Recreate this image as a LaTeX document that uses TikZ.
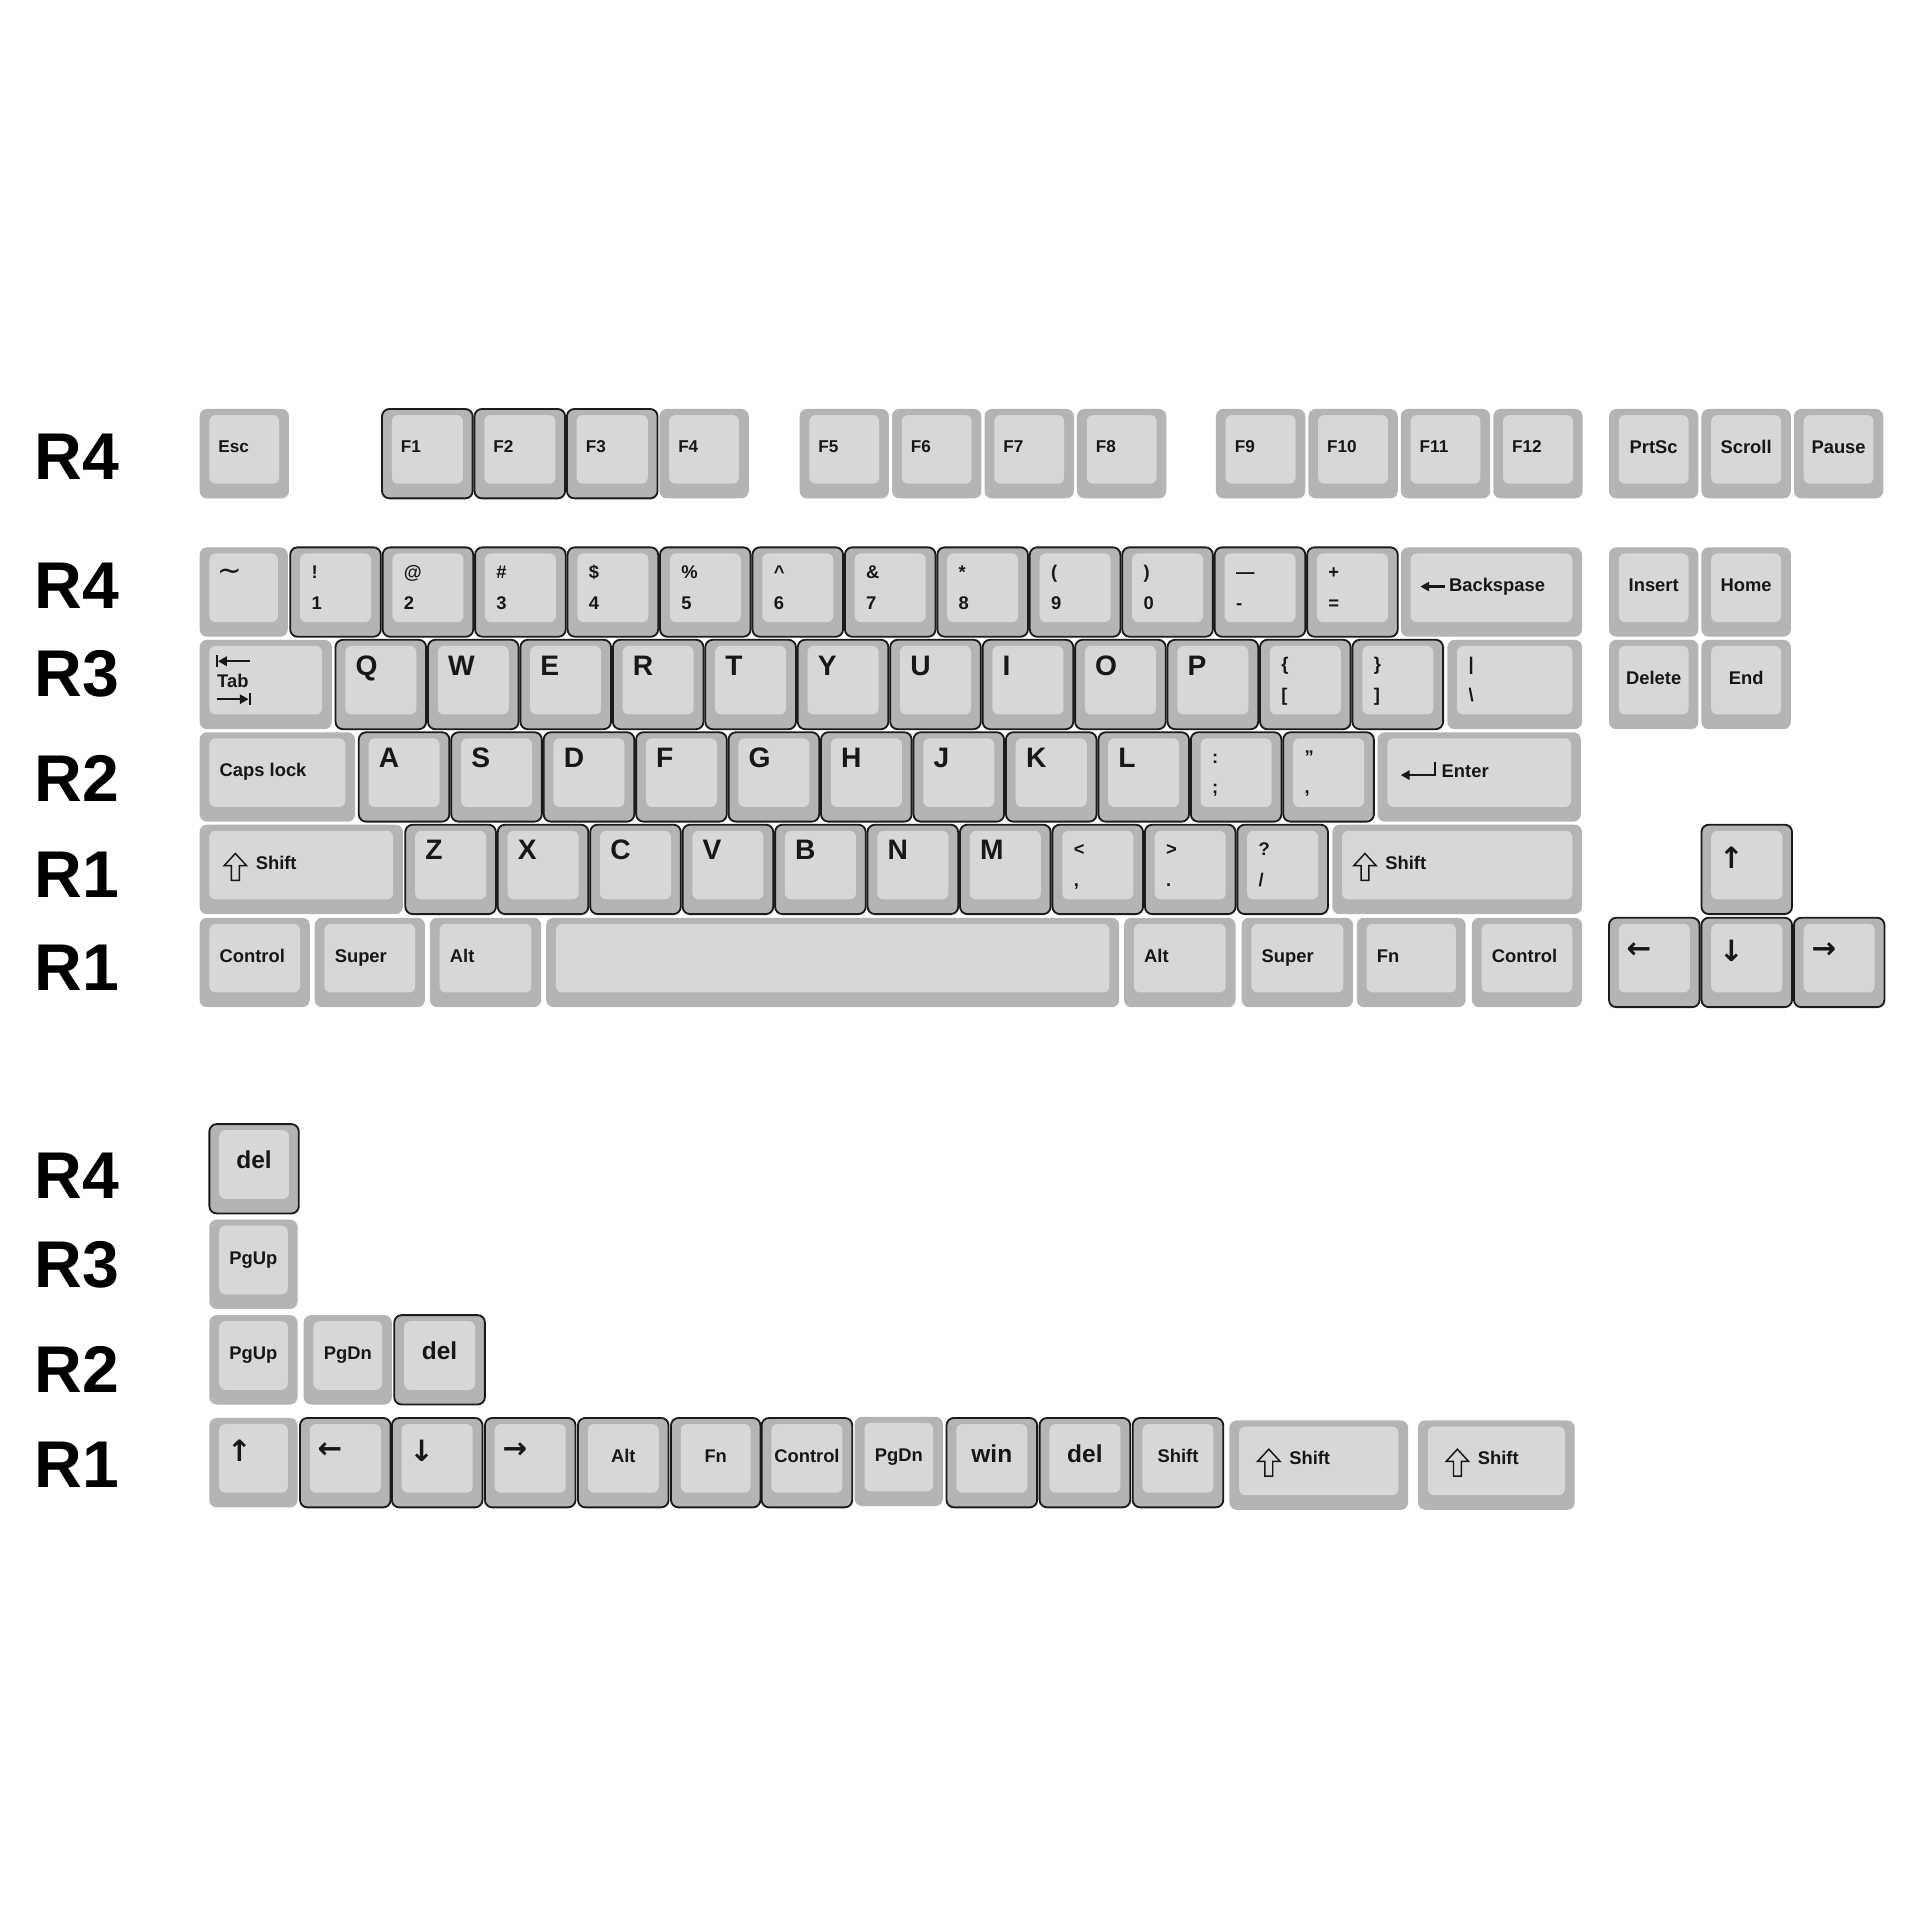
\documentclass[tikz,border=0pt]{standalone}
\usepackage{fontspec}
\setmainfont{Liberation Sans}
\newfontfamily\arrowfont{DejaVu Sans}
\usepackage{tikz}
\usetikzlibrary{arrows.meta}
\definecolor{keySide}{HTML}{B4B4B4}
\definecolor{keyTop}{HTML}{D6D7D8}
\definecolor{keyEdge}{HTML}{1C1A1A}
\definecolor{legendInk}{HTML}{1A1616}

% one cap: [outline]{name}{left}{top}{width}{legend options}{legend}
\newcommand\keycap[7][]{%
  \def\capwidth{#5}%
  \fill[key side] (#3,#4) rectangle ++(#5,73);
  \fill[key top] (#3+8,#4+5) rectangle ++(#5-16,56);
  \path[key outline,#1] (#3,#4) rectangle ++(#5,73);
  \node[key spot,minimum width=#5*0.5pt] (#2) at (#3,#4) {};
  \node[#6] (#2-t) at (#2.north west) {#7};}
\newcommand\dualcap[7][]{%
  \keycap[#1]{#2}{#3}{#4}{#5}{upr}{#6}
  \node[lwr] (#2-b) at (#2.north west) {#7};}
% shift cap: {name}{left}{top}{width}{arrow inset}
\newcommand\shiftcap[5]{%
  \keycap{#1}{#2}{#3}{#4}{shl=#5}{Shift}
  \draw[shift glyph] ([shift={(#5+9.2,23.5)}]#1.north west) -- ++(9.2,10)
    -- ++(-6,0) -- ++(0,12) -- ++(-6.4,0) -- ++(0,-12) -- ++(-6,0) -- cycle;}

\tikzset{
  key side/.style={fill=keySide,rounded corners=3pt},
  key top/.style={fill=keyTop,rounded corners=2.5pt},
  key outline/.style={rounded corners=3pt},
  edged/.style={draw=keyEdge,line width=0.75pt},
  key spot/.style={anchor=north west,inner sep=0pt,minimum height=36.5pt},
  legend/.style={inner sep=0pt,text=legendInk,font=\fontsize{7.5}{9}\selectfont\bfseries},
  lft/.style={legend,anchor=base west,xshift=8pt,yshift=-18.2pt},
  fkey/.style={legend,anchor=base west,xshift=7.5pt,yshift=-17.9pt,
    font=\fontsize{7}{9}\selectfont\bfseries},
  mid/.style={legend,anchor=base,xshift=\capwidth*0.25pt,yshift=-18.2pt},
  big/.style={mid,font=\fontsize{10}{12}\selectfont\bfseries},
  ltr/.style={legend,anchor=base west,xshift=8pt,yshift=-14.4pt,
    font=\fontsize{11.5}{13}\selectfont\bfseries},
  upr/.style={legend,anchor=base west,xshift=8.5pt,yshift=-12.7pt},
  lwr/.style={legend,anchor=base west,xshift=8.5pt,yshift=-25.2pt},
  arw/.style={legend,anchor=west,xshift=7pt,yshift=-13.5pt,
    font=\arrowfont\bfseries\fontsize{12}{12}\selectfont},
  tld/.style={legend,anchor=west,xshift=7pt,yshift=-11.2pt,
    font=\arrowfont\fontsize{12}{12}\selectfont},
  tabl/.style={legend,anchor=base west,xshift=7pt,yshift=-19.5pt},
  bks/.style={legend,anchor=base west,xshift=19.5pt,yshift=-18.2pt},
  ent/.style={legend,anchor=base west,xshift=26pt,yshift=-18.4pt},
  shl/.style={legend,anchor=base west,xshift=(#1+25.5)*0.5pt,yshift=-18.2pt},
  legend mark/.style={draw=legendInk,line width=0.9pt,
    -{Triangle[length=3.6pt,width=3.8pt]}},
  bar mark/.style={draw=legendInk,line width=0.9pt},
  shift glyph/.style={draw=legendInk,line width=0.6pt,line join=miter},
  row tag/.style={anchor=west,inner sep=0pt,text=black,
    font=\fontsize{27}{27}\selectfont\bfseries},
}

\begin{document}
\begin{tikzpicture}[x=0.5pt,y=-0.5pt]
\fill[white] (0,0) rectangle (1568,1568);
\useasboundingbox (0,0) rectangle (1568,1568);

% row tags
\node[row tag] (tagA) at (28,373) {R4};
\node[row tag] (tagB) at (28,478) {R4};
\node[row tag] (tagC) at (28,550) {R3};
\node[row tag] (tagD) at (28,636) {R2};
\node[row tag] (tagE) at (28,714) {R1};
\node[row tag] (tagF) at (28,790) {R1};
\node[row tag] (tagG) at (28,960) {R4};
\node[row tag] (tagH) at (28,1033) {R3};
\node[row tag] (tagI) at (28,1118) {R2};
\node[row tag] (tagJ) at (28,1196) {R1};

% function row
\keycap{esc}{163}{334}{73}{fkey}{Esc}
\keycap[edged]{f1}{312}{334}{74}{fkey}{F1}
\keycap[edged]{f2}{387.5}{334}{74}{fkey}{F2}
\keycap[edged]{f3}{463}{334}{74}{fkey}{F3}
\keycap{f4}{538.5}{334}{73}{fkey}{F4}
\foreach \n [count=\i from 0] in {5,...,8}
  {\keycap{f\n}{653+75.5*\i}{334}{73}{fkey}{F\n}}
\foreach \n [count=\i from 0] in {9,...,12}
  {\keycap{f\n}{993+75.5*\i}{334}{73}{fkey}{F\n}}
\keycap{prtsc}{1314}{334}{73}{mid}{PrtSc}
\keycap{scroll}{1389.5}{334}{73}{mid}{Scroll}
\keycap{pause}{1465}{334}{73}{mid}{Pause}

% number row
\keycap{tilde}{163}{447}{72}{tld}{∼}
\dualcap[edged]{n1}{237}{447}{74}{!}{1}
\dualcap[edged]{n2}{312.5}{447}{74}{@}{2}
\dualcap[edged]{n3}{388}{447}{74}{\#}{3}
\dualcap[edged]{n4}{463.5}{447}{74}{\$}{4}
\dualcap[edged]{n5}{539}{447}{74}{\%}{5}
\dualcap[edged]{n6}{614.5}{447}{74}{\textasciicircum}{6}
\dualcap[edged]{n7}{690}{447}{74}{\&}{7}
\dualcap[edged]{n8}{765.5}{447}{74}{*}{8}
\dualcap[edged]{n9}{841}{447}{74}{(}{9}
\dualcap[edged]{n0}{916.5}{447}{74}{)}{0}
\dualcap[edged]{minus}{992}{447}{74}{\textemdash}{-}
\dualcap[edged]{equal}{1067.5}{447}{74}{+}{=}
\keycap{bksp}{1144}{447}{148}{bks}{Backspase}
\draw[legend mark] ([shift={(36,32)}]bksp.north west) -- ++(-20,0);
\keycap{ins}{1314}{447}{73}{mid}{Insert}
\keycap{home}{1389.5}{447}{73}{mid}{Home}

% top letter row
\keycap{tab}{163}{522.5}{108}{tabl}{Tab}
\draw[legend mark] ([shift={(41,17.5)}]tab.north west) -- ++(-26,0);
\draw[bar mark] ([shift={(14,12.5)}]tab.north west) -- ++(0,10);
\draw[legend mark] ([shift={(14,48.5)}]tab.north west) -- ++(26,0);
\draw[bar mark] ([shift={(41,43.5)}]tab.north west) -- ++(0,10);
\foreach \k [count=\i from 0] in {Q,W,E,R,T,Y,U,I,O,P}
  {\keycap[edged]{k\k}{274+75.5*\i}{522.5}{74}{ltr}{\k}}
\dualcap[edged]{lbrack}{1029}{522.5}{74}{\{}{[}
\dualcap[edged]{rbrack}{1104.5}{522.5}{74}{\}}{]}
\dualcap{bslash}{1182}{522.5}{110}{|}{\textbackslash}
\keycap{delete}{1314}{522.5}{73}{mid}{Delete}
\keycap{endk}{1389.5}{522.5}{73}{mid}{End}

% home row
\keycap{caps}{163}{598}{127}{lft}{Caps lock}
\foreach \k [count=\i from 0] in {A,S,D,F,G,H,J,K,L}
  {\keycap[edged]{k\k}{293+75.5*\i}{598}{74}{ltr}{\k}}
\dualcap[edged]{semi}{972.5}{598}{74}{:}{;}
\dualcap[edged]{quote}{1048}{598}{74}{”}{,}
\keycap{enter}{1125}{598}{166}{ent}{Enter}
\draw[legend mark] ([shift={(47,24)}]enter.north west) -- ++(0,11) -- ++(-28,0);

% bottom letter row
\shiftcap{lshift}{163}{673.5}{166}{20}
\foreach \k [count=\i from 0] in {Z,X,C,V,B,N,M}
  {\keycap[edged]{k\k}{331+75.5*\i}{673.5}{74}{ltr}{\k}}
\dualcap[edged]{comma}{859.5}{673.5}{74}{<}{,}
\dualcap[edged]{period}{935}{673.5}{74}{>}{.}
\dualcap[edged]{slash}{1010.5}{673.5}{74}{?}{/}
\shiftcap{rshift}{1088}{673.5}{204}{17.5}
\keycap[edged]{aUp}{1389.5}{673.5}{74}{arw}{↑}

% modifier row
\keycap{lctrl}{163}{749.5}{90}{lft}{Control}
\keycap{lsuper}{257}{749.5}{90}{lft}{Super}
\keycap{lalt}{351}{749.5}{91}{lft}{Alt}
\keycap{space}{446}{749.5}{468}{lft}{}
\keycap{ralt}{918}{749.5}{91}{lft}{Alt}
\keycap{rsuper}{1014}{749.5}{91}{lft}{Super}
\keycap{fn}{1108}{749.5}{89}{lft}{Fn}
\keycap{rctrl}{1202}{749.5}{90}{lft}{Control}
\keycap[edged]{aLeft}{1314}{749.5}{74}{arw}{←}
\keycap[edged]{aDown}{1389.5}{749.5}{74}{arw}{↓}
\keycap[edged]{aRight}{1465}{749.5}{74}{arw}{→}

% extra caps
\keycap[edged]{delA}{171}{918}{73}{big}{del}
\keycap{pgupA}{171}{996}{72}{mid}{PgUp}
\keycap{pgupB}{171}{1074}{72}{mid}{PgUp}
\keycap{pgdnA}{248}{1074}{72}{mid}{PgDn}
\keycap[edged]{delB}{322}{1074}{74}{big}{del}
\keycap{xUp}{171}{1158}{72}{arw}{↑}
\keycap[edged]{xLeft}{245}{1158}{74}{arw}{←}
\keycap[edged]{xDown}{320}{1158}{74}{arw}{↓}
\keycap[edged]{xRight}{396}{1158}{74}{arw}{→}
\keycap[edged]{altB}{472}{1158}{74}{mid}{Alt}
\keycap[edged]{fnB}{548}{1158}{73}{mid}{Fn}
\keycap[edged]{ctrlB}{622}{1158}{74}{mid}{Control}
\keycap{pgdnB}{698}{1157}{72}{mid}{PgDn}
\keycap[edged]{win}{773}{1158}{74}{big}{win}
\keycap[edged]{delC}{849}{1158}{74}{big}{del}
\keycap[edged]{shiftB}{925}{1158}{74}{mid}{Shift}
\shiftcap{shiftC}{1004}{1160}{146}{23}
\shiftcap{shiftD}{1158}{1160}{128}{23}
\end{tikzpicture}
\end{document}
